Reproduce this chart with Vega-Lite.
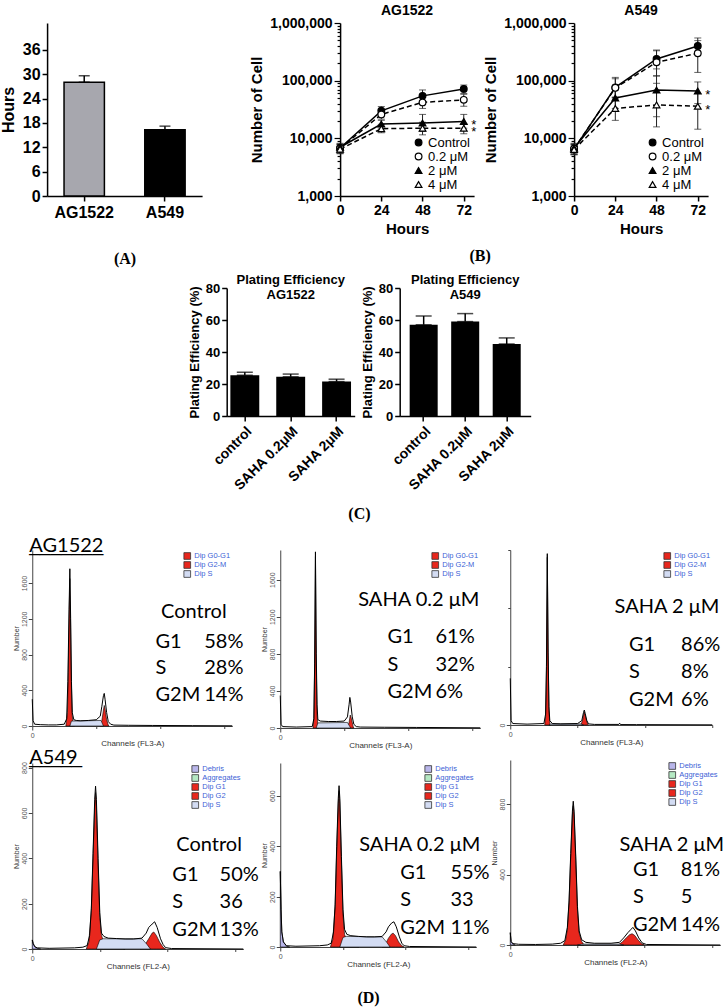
{
"$schema": "https://vega.github.io/schema/vega-lite/v6.json",
"padding": {"left": 0, "right": 5, "top": 4, "bottom": 2},
"background": "white",
"datasets": {
"hours": [{"cell":"AG1522","h":28,"hi":29.6},{"cell":"A549","h":16.3,"hi":17.2}],
"growth": [
{"cell":"AG1522","c":"Control","t":0,"v":6800,"lo":5600,"hi":8000},
{"cell":"AG1522","c":"Control","t":24,"v":30000,"lo":25800,"hi":35600},
{"cell":"AG1522","c":"Control","t":48,"v":54500,"lo":43500,"hi":69000},
{"cell":"AG1522","c":"Control","t":72,"v":72000,"lo":60000,"hi":84000},
{"cell":"AG1522","c":"0.2 μM","t":0,"v":6700,"lo":5500,"hi":7800},
{"cell":"AG1522","c":"0.2 μM","t":24,"v":26000,"lo":21500,"hi":31000},
{"cell":"AG1522","c":"0.2 μM","t":48,"v":42000,"lo":33000,"hi":52000},
{"cell":"AG1522","c":"0.2 μM","t":72,"v":46500,"lo":36000,"hi":58000},
{"cell":"AG1522","c":"2 μM","t":0,"v":7000,"lo":5800,"hi":8200},
{"cell":"AG1522","c":"2 μM","t":24,"v":17700,"lo":15000,"hi":20500},
{"cell":"AG1522","c":"2 μM","t":48,"v":18400,"lo":13200,"hi":26000},
{"cell":"AG1522","c":"2 μM","t":72,"v":19600,"lo":15000,"hi":26000,"sig":"*"},
{"cell":"AG1522","c":"4 μM","t":0,"v":6500,"lo":5400,"hi":7700},
{"cell":"AG1522","c":"4 μM","t":24,"v":14700,"lo":12500,"hi":17500},
{"cell":"AG1522","c":"4 μM","t":48,"v":15000,"lo":11500,"hi":19000},
{"cell":"AG1522","c":"4 μM","t":72,"v":15000,"lo":12000,"hi":18000,"sig":"*"},
{"cell":"A549","c":"Control","t":0,"v":6500,"lo":5200,"hi":8000},
{"cell":"A549","c":"Control","t":24,"v":76400,"lo":51000,"hi":114000},
{"cell":"A549","c":"Control","t":48,"v":238000,"lo":160000,"hi":340000},
{"cell":"A549","c":"Control","t":72,"v":400000,"lo":300000,"hi":550000},
{"cell":"A549","c":"0.2 μM","t":0,"v":6600,"lo":5300,"hi":7800},
{"cell":"A549","c":"0.2 μM","t":24,"v":75000,"lo":52000,"hi":108000},
{"cell":"A549","c":"0.2 μM","t":48,"v":208000,"lo":120000,"hi":330000},
{"cell":"A549","c":"0.2 μM","t":72,"v":299000,"lo":139000,"hi":495000},
{"cell":"A549","c":"2 μM","t":0,"v":6800,"lo":5500,"hi":8200},
{"cell":"A549","c":"2 μM","t":24,"v":50000,"lo":33000,"hi":75000},
{"cell":"A549","c":"2 μM","t":48,"v":68700,"lo":23700,"hi":122000},
{"cell":"A549","c":"2 μM","t":72,"v":66000,"lo":40000,"hi":95000,"sig":"*"},
{"cell":"A549","c":"4 μM","t":0,"v":6400,"lo":5200,"hi":7600},
{"cell":"A549","c":"4 μM","t":24,"v":33000,"lo":20500,"hi":50000},
{"cell":"A549","c":"4 μM","t":48,"v":38000,"lo":15800,"hi":90000},
{"cell":"A549","c":"4 μM","t":72,"v":36000,"lo":14400,"hi":60000,"sig":"*"}
],
"plating": [
{"cell":"AG1522","g":"control","v":25.5,"hi":27.3},
{"cell":"AG1522","g":"SAHA 0.2μM","v":24.5,"hi":26.2},
{"cell":"AG1522","g":"SAHA 2μM","v":21.5,"hi":23},
{"cell":"A549","g":"control","v":57,"hi":62.5},
{"cell":"A549","g":"SAHA 0.2μM","v":59,"hi":64},
{"cell":"A549","g":"SAHA 2μM","v":45,"hi":48.8}
],
"stats": [
{"p":"AGc","row":"head","lab":"Control","pct":""},{"p":"AGc","row":"G1","lab":"G1","pct":"58%"},{"p":"AGc","row":"S","lab":"S","pct":"28%"},{"p":"AGc","row":"G2M","lab":"G2M","pct":"14%"},
{"p":"AG02","row":"head","lab":"SAHA 0.2 μM","pct":""},{"p":"AG02","row":"G1","lab":"G1","pct":"61%"},{"p":"AG02","row":"S","lab":"S","pct":"32%"},{"p":"AG02","row":"G2M","lab":"G2M","pct":"6%"},
{"p":"AG2","row":"head","lab":"SAHA 2 μM","pct":""},{"p":"AG2","row":"G1","lab":"G1","pct":"86%"},{"p":"AG2","row":"S","lab":"S","pct":"8%"},{"p":"AG2","row":"G2M","lab":"G2M","pct":"6%"},
{"p":"Ac","row":"head","lab":"Control","pct":""},{"p":"Ac","row":"G1","lab":"G1","pct":"50%"},{"p":"Ac","row":"S","lab":"S","pct":"36"},{"p":"Ac","row":"G2M","lab":"G2M","pct":"13%"},
{"p":"A02","row":"head","lab":"SAHA 0.2 μM","pct":""},{"p":"A02","row":"G1","lab":"G1","pct":"55%"},{"p":"A02","row":"S","lab":"S","pct":"33"},{"p":"A02","row":"G2M","lab":"G2M","pct":"11%"},
{"p":"A2","row":"head","lab":"SAHA 2 μM","pct":""},{"p":"A2","row":"G1","lab":"G1","pct":"81%"},{"p":"A2","row":"S","lab":"S","pct":"5"},{"p":"A2","row":"G2M","lab":"G2M","pct":"14%"}
],
"flow": [
{"p":"AGc","k":"tot","x":0,"n":300},{"p":"AGc","k":"tot","x":1,"n":60},{"p":"AGc","k":"tot","x":3,"n":20},{"p":"AGc","k":"tot","x":10,"n":15},{"p":"AGc","k":"tot","x":20,"n":12},{"p":"AGc","k":"tot","x":30,"n":12},{"p":"AGc","k":"tot","x":40,"n":20},{"p":"AGc","k":"tot","x":43,"n":80},{"p":"AGc","k":"tot","x":44.5,"n":500},{"p":"AGc","k":"tot","x":46,"n":1300},{"p":"AGc","k":"tot","x":47,"n":1760},{"p":"AGc","k":"tot","x":48,"n":1200},{"p":"AGc","k":"tot","x":49,"n":500},{"p":"AGc","k":"tot","x":50,"n":150},{"p":"AGc","k":"tot","x":52,"n":70},{"p":"AGc","k":"tot","x":55,"n":62},{"p":"AGc","k":"tot","x":60,"n":58},{"p":"AGc","k":"tot","x":70,"n":62},{"p":"AGc","k":"tot","x":80,"n":70},{"p":"AGc","k":"tot","x":85,"n":110},{"p":"AGc","k":"tot","x":87,"n":220},{"p":"AGc","k":"tot","x":89,"n":340},{"p":"AGc","k":"tot","x":90,"n":365},{"p":"AGc","k":"tot","x":91,"n":300},{"p":"AGc","k":"tot","x":93,"n":150},{"p":"AGc","k":"tot","x":95,"n":50},{"p":"AGc","k":"tot","x":98,"n":20},{"p":"AGc","k":"tot","x":102,"n":10},{"p":"AGc","k":"tot","x":120,"n":8},{"p":"AGc","k":"tot","x":150,"n":6},{"p":"AGc","k":"tot","x":200,"n":4},{"p":"AGc","k":"tot","x":250,"n":2},
{"p":"AGc","k":"Dip G0-G1","x":42,"n":0},{"p":"AGc","k":"Dip G0-G1","x":44,"n":150},{"p":"AGc","k":"Dip G0-G1","x":45,"n":600},{"p":"AGc","k":"Dip G0-G1","x":46,"n":1200},{"p":"AGc","k":"Dip G0-G1","x":47,"n":1650},{"p":"AGc","k":"Dip G0-G1","x":48,"n":1100},{"p":"AGc","k":"Dip G0-G1","x":49,"n":450},{"p":"AGc","k":"Dip G0-G1","x":50,"n":120},{"p":"AGc","k":"Dip G0-G1","x":51,"n":30},{"p":"AGc","k":"Dip G0-G1","x":53,"n":0},
{"p":"AGc","k":"Dip G2-M","x":85,"n":0},{"p":"AGc","k":"Dip G2-M","x":87,"n":60},{"p":"AGc","k":"Dip G2-M","x":89,"n":180},{"p":"AGc","k":"Dip G2-M","x":90,"n":230},{"p":"AGc","k":"Dip G2-M","x":91,"n":190},{"p":"AGc","k":"Dip G2-M","x":93,"n":70},{"p":"AGc","k":"Dip G2-M","x":95,"n":10},{"p":"AGc","k":"Dip G2-M","x":96,"n":0},
{"p":"AGc","k":"Dip S","x":47,"n":0},{"p":"AGc","k":"Dip S","x":49,"n":55},{"p":"AGc","k":"Dip S","x":86,"n":62},{"p":"AGc","k":"Dip S","x":89,"n":0},
{"p":"AG02","k":"tot","x":0,"n":350},{"p":"AG02","k":"tot","x":1,"n":40},{"p":"AG02","k":"tot","x":3,"n":15},{"p":"AG02","k":"tot","x":20,"n":10},{"p":"AG02","k":"tot","x":40,"n":15},{"p":"AG02","k":"tot","x":42,"n":100},{"p":"AG02","k":"tot","x":43,"n":700},{"p":"AG02","k":"tot","x":44,"n":1900},{"p":"AG02","k":"tot","x":45,"n":800},{"p":"AG02","k":"tot","x":46,"n":250},{"p":"AG02","k":"tot","x":47,"n":90},{"p":"AG02","k":"tot","x":50,"n":75},{"p":"AG02","k":"tot","x":60,"n":70},{"p":"AG02","k":"tot","x":70,"n":70},{"p":"AG02","k":"tot","x":80,"n":75},{"p":"AG02","k":"tot","x":84,"n":120},{"p":"AG02","k":"tot","x":86,"n":250},{"p":"AG02","k":"tot","x":87,"n":330},{"p":"AG02","k":"tot","x":88,"n":280},{"p":"AG02","k":"tot","x":90,"n":120},{"p":"AG02","k":"tot","x":92,"n":40},{"p":"AG02","k":"tot","x":95,"n":15},{"p":"AG02","k":"tot","x":100,"n":10},{"p":"AG02","k":"tot","x":130,"n":8},{"p":"AG02","k":"tot","x":170,"n":6},{"p":"AG02","k":"tot","x":250,"n":2},
{"p":"AG02","k":"Dip G0-G1","x":41,"n":0},{"p":"AG02","k":"Dip G0-G1","x":42,"n":100},{"p":"AG02","k":"Dip G0-G1","x":43,"n":650},{"p":"AG02","k":"Dip G0-G1","x":44,"n":1850},{"p":"AG02","k":"Dip G0-G1","x":45,"n":700},{"p":"AG02","k":"Dip G0-G1","x":46,"n":150},{"p":"AG02","k":"Dip G0-G1","x":47,"n":20},{"p":"AG02","k":"Dip G0-G1","x":48,"n":0},
{"p":"AG02","k":"Dip G2-M","x":84,"n":0},{"p":"AG02","k":"Dip G2-M","x":86,"n":60},{"p":"AG02","k":"Dip G2-M","x":87.5,"n":140},{"p":"AG02","k":"Dip G2-M","x":89,"n":100},{"p":"AG02","k":"Dip G2-M","x":91,"n":20},{"p":"AG02","k":"Dip G2-M","x":92,"n":0},
{"p":"AG02","k":"Dip S","x":45,"n":0},{"p":"AG02","k":"Dip S","x":47,"n":55},{"p":"AG02","k":"Dip S","x":84,"n":60},{"p":"AG02","k":"Dip S","x":88,"n":0},
{"p":"AG2","k":"tot","x":0,"n":640},{"p":"AG2","k":"tot","x":1,"n":60},{"p":"AG2","k":"tot","x":3,"n":20},{"p":"AG2","k":"tot","x":20,"n":12},{"p":"AG2","k":"tot","x":40,"n":20},{"p":"AG2","k":"tot","x":42,"n":150},{"p":"AG2","k":"tot","x":43,"n":800},{"p":"AG2","k":"tot","x":44,"n":2350},{"p":"AG2","k":"tot","x":45,"n":1000},{"p":"AG2","k":"tot","x":46,"n":250},{"p":"AG2","k":"tot","x":47,"n":60},{"p":"AG2","k":"tot","x":50,"n":20},{"p":"AG2","k":"tot","x":60,"n":15},{"p":"AG2","k":"tot","x":80,"n":20},{"p":"AG2","k":"tot","x":85,"n":60},{"p":"AG2","k":"tot","x":87,"n":170},{"p":"AG2","k":"tot","x":88,"n":205},{"p":"AG2","k":"tot","x":89,"n":160},{"p":"AG2","k":"tot","x":91,"n":60},{"p":"AG2","k":"tot","x":93,"n":15},{"p":"AG2","k":"tot","x":100,"n":8},{"p":"AG2","k":"tot","x":129,"n":8},{"p":"AG2","k":"tot","x":130,"n":25},{"p":"AG2","k":"tot","x":131,"n":6},{"p":"AG2","k":"tot","x":150,"n":5},{"p":"AG2","k":"tot","x":240,"n":2},
{"p":"AG2","k":"Dip G0-G1","x":41,"n":0},{"p":"AG2","k":"Dip G0-G1","x":42,"n":120},{"p":"AG2","k":"Dip G0-G1","x":43,"n":750},{"p":"AG2","k":"Dip G0-G1","x":44,"n":2300},{"p":"AG2","k":"Dip G0-G1","x":45,"n":950},{"p":"AG2","k":"Dip G0-G1","x":46,"n":200},{"p":"AG2","k":"Dip G0-G1","x":47,"n":20},{"p":"AG2","k":"Dip G0-G1","x":48,"n":0},
{"p":"AG2","k":"Dip G2-M","x":84,"n":0},{"p":"AG2","k":"Dip G2-M","x":86,"n":70},{"p":"AG2","k":"Dip G2-M","x":88,"n":180},{"p":"AG2","k":"Dip G2-M","x":90,"n":90},{"p":"AG2","k":"Dip G2-M","x":92,"n":10},{"p":"AG2","k":"Dip G2-M","x":93,"n":0},
{"p":"AG2","k":"Dip S","x":46,"n":0},{"p":"AG2","k":"Dip S","x":48,"n":15},{"p":"AG2","k":"Dip S","x":84,"n":15},{"p":"AG2","k":"Dip S","x":87,"n":0},
{"p":"Ac","k":"tot","x":0,"n":40},{"p":"Ac","k":"tot","x":1,"n":25},{"p":"Ac","k":"tot","x":3,"n":10},{"p":"Ac","k":"tot","x":6,"n":5},{"p":"Ac","k":"tot","x":20,"n":3},{"p":"Ac","k":"tot","x":50,"n":5},{"p":"Ac","k":"tot","x":60,"n":8},{"p":"Ac","k":"tot","x":65,"n":15},{"p":"Ac","k":"tot","x":68,"n":60},{"p":"Ac","k":"tot","x":70,"n":180},{"p":"Ac","k":"tot","x":72,"n":420},{"p":"Ac","k":"tot","x":74,"n":660},{"p":"Ac","k":"tot","x":75,"n":718},{"p":"Ac","k":"tot","x":76,"n":660},{"p":"Ac","k":"tot","x":78,"n":400},{"p":"Ac","k":"tot","x":80,"n":160},{"p":"Ac","k":"tot","x":82,"n":70},{"p":"Ac","k":"tot","x":85,"n":55},{"p":"Ac","k":"tot","x":90,"n":48},{"p":"Ac","k":"tot","x":100,"n":46},{"p":"Ac","k":"tot","x":110,"n":44},{"p":"Ac","k":"tot","x":120,"n":44},{"p":"Ac","k":"tot","x":130,"n":48},{"p":"Ac","k":"tot","x":135,"n":70},{"p":"Ac","k":"tot","x":138,"n":95},{"p":"Ac","k":"tot","x":142,"n":110},{"p":"Ac","k":"tot","x":145,"n":120},{"p":"Ac","k":"tot","x":148,"n":95},{"p":"Ac","k":"tot","x":152,"n":45},{"p":"Ac","k":"tot","x":155,"n":20},{"p":"Ac","k":"tot","x":158,"n":6},{"p":"Ac","k":"tot","x":165,"n":2},{"p":"Ac","k":"tot","x":250,"n":0},
{"p":"Ac","k":"Debris","x":0,"n":40},{"p":"Ac","k":"Debris","x":1,"n":25},{"p":"Ac","k":"Debris","x":3,"n":10},{"p":"Ac","k":"Debris","x":6,"n":3},{"p":"Ac","k":"Debris","x":10,"n":0},
{"p":"Ac","k":"Dip G1","x":64,"n":0},{"p":"Ac","k":"Dip G1","x":67,"n":30},{"p":"Ac","k":"Dip G1","x":70,"n":170},{"p":"Ac","k":"Dip G1","x":72,"n":400},{"p":"Ac","k":"Dip G1","x":74,"n":630},{"p":"Ac","k":"Dip G1","x":75,"n":690},{"p":"Ac","k":"Dip G1","x":76,"n":630},{"p":"Ac","k":"Dip G1","x":78,"n":370},{"p":"Ac","k":"Dip G1","x":80,"n":140},{"p":"Ac","k":"Dip G1","x":82,"n":60},{"p":"Ac","k":"Dip G1","x":85,"n":30},{"p":"Ac","k":"Dip G1","x":90,"n":15},{"p":"Ac","k":"Dip G1","x":100,"n":8},{"p":"Ac","k":"Dip G1","x":110,"n":0},
{"p":"Ac","k":"Dip G2","x":128,"n":0},{"p":"Ac","k":"Dip G2","x":133,"n":15},{"p":"Ac","k":"Dip G2","x":138,"n":45},{"p":"Ac","k":"Dip G2","x":142,"n":70},{"p":"Ac","k":"Dip G2","x":144,"n":75},{"p":"Ac","k":"Dip G2","x":147,"n":60},{"p":"Ac","k":"Dip G2","x":151,"n":30},{"p":"Ac","k":"Dip G2","x":155,"n":8},{"p":"Ac","k":"Dip G2","x":158,"n":0},
{"p":"Ac","k":"Dip S","x":76,"n":0},{"p":"Ac","k":"Dip S","x":80,"n":40},{"p":"Ac","k":"Dip S","x":84,"n":45},{"p":"Ac","k":"Dip S","x":130,"n":45},{"p":"Ac","k":"Dip S","x":136,"n":20},{"p":"Ac","k":"Dip S","x":140,"n":0},
{"p":"A02","k":"tot","x":0,"n":300},{"p":"A02","k":"tot","x":1,"n":150},{"p":"A02","k":"tot","x":2,"n":60},{"p":"A02","k":"tot","x":4,"n":20},{"p":"A02","k":"tot","x":8,"n":5},{"p":"A02","k":"tot","x":20,"n":3},{"p":"A02","k":"tot","x":50,"n":5},{"p":"A02","k":"tot","x":60,"n":8},{"p":"A02","k":"tot","x":65,"n":15},{"p":"A02","k":"tot","x":68,"n":60},{"p":"A02","k":"tot","x":70,"n":170},{"p":"A02","k":"tot","x":72,"n":400},{"p":"A02","k":"tot","x":74,"n":590},{"p":"A02","k":"tot","x":75,"n":640},{"p":"A02","k":"tot","x":76,"n":590},{"p":"A02","k":"tot","x":78,"n":360},{"p":"A02","k":"tot","x":80,"n":150},{"p":"A02","k":"tot","x":82,"n":70},{"p":"A02","k":"tot","x":85,"n":50},{"p":"A02","k":"tot","x":90,"n":45},{"p":"A02","k":"tot","x":100,"n":42},{"p":"A02","k":"tot","x":110,"n":40},{"p":"A02","k":"tot","x":120,"n":40},{"p":"A02","k":"tot","x":130,"n":42},{"p":"A02","k":"tot","x":135,"n":60},{"p":"A02","k":"tot","x":138,"n":80},{"p":"A02","k":"tot","x":142,"n":95},{"p":"A02","k":"tot","x":145,"n":100},{"p":"A02","k":"tot","x":148,"n":80},{"p":"A02","k":"tot","x":152,"n":40},{"p":"A02","k":"tot","x":155,"n":15},{"p":"A02","k":"tot","x":158,"n":5},{"p":"A02","k":"tot","x":165,"n":2},{"p":"A02","k":"tot","x":250,"n":0},
{"p":"A02","k":"Debris","x":0,"n":300},{"p":"A02","k":"Debris","x":1,"n":150},{"p":"A02","k":"Debris","x":2,"n":60},{"p":"A02","k":"Debris","x":4,"n":20},{"p":"A02","k":"Debris","x":8,"n":3},{"p":"A02","k":"Debris","x":12,"n":0},
{"p":"A02","k":"Dip G1","x":64,"n":0},{"p":"A02","k":"Dip G1","x":67,"n":30},{"p":"A02","k":"Dip G1","x":70,"n":160},{"p":"A02","k":"Dip G1","x":72,"n":380},{"p":"A02","k":"Dip G1","x":74,"n":570},{"p":"A02","k":"Dip G1","x":75,"n":620},{"p":"A02","k":"Dip G1","x":76,"n":570},{"p":"A02","k":"Dip G1","x":78,"n":340},{"p":"A02","k":"Dip G1","x":80,"n":130},{"p":"A02","k":"Dip G1","x":82,"n":50},{"p":"A02","k":"Dip G1","x":85,"n":25},{"p":"A02","k":"Dip G1","x":90,"n":12},{"p":"A02","k":"Dip G1","x":100,"n":0},
{"p":"A02","k":"Dip G2","x":130,"n":0},{"p":"A02","k":"Dip G2","x":134,"n":10},{"p":"A02","k":"Dip G2","x":138,"n":35},{"p":"A02","k":"Dip G2","x":142,"n":52},{"p":"A02","k":"Dip G2","x":144,"n":55},{"p":"A02","k":"Dip G2","x":147,"n":45},{"p":"A02","k":"Dip G2","x":151,"n":20},{"p":"A02","k":"Dip G2","x":155,"n":5},{"p":"A02","k":"Dip G2","x":158,"n":0},
{"p":"A02","k":"Dip S","x":76,"n":0},{"p":"A02","k":"Dip S","x":80,"n":38},{"p":"A02","k":"Dip S","x":84,"n":42},{"p":"A02","k":"Dip S","x":130,"n":40},{"p":"A02","k":"Dip S","x":136,"n":18},{"p":"A02","k":"Dip S","x":140,"n":0},
{"p":"A2","k":"tot","x":0,"n":70},{"p":"A2","k":"tot","x":1,"n":20},{"p":"A2","k":"tot","x":3,"n":8},{"p":"A2","k":"tot","x":10,"n":4},{"p":"A2","k":"tot","x":30,"n":3},{"p":"A2","k":"tot","x":50,"n":5},{"p":"A2","k":"tot","x":60,"n":10},{"p":"A2","k":"tot","x":65,"n":25},{"p":"A2","k":"tot","x":68,"n":100},{"p":"A2","k":"tot","x":70,"n":250},{"p":"A2","k":"tot","x":72,"n":520},{"p":"A2","k":"tot","x":74,"n":760},{"p":"A2","k":"tot","x":75,"n":816},{"p":"A2","k":"tot","x":76,"n":760},{"p":"A2","k":"tot","x":78,"n":500},{"p":"A2","k":"tot","x":80,"n":220},{"p":"A2","k":"tot","x":82,"n":80},{"p":"A2","k":"tot","x":85,"n":30},{"p":"A2","k":"tot","x":90,"n":15},{"p":"A2","k":"tot","x":100,"n":10},{"p":"A2","k":"tot","x":120,"n":10},{"p":"A2","k":"tot","x":130,"n":15},{"p":"A2","k":"tot","x":135,"n":40},{"p":"A2","k":"tot","x":140,"n":70},{"p":"A2","k":"tot","x":144,"n":90},{"p":"A2","k":"tot","x":146,"n":100},{"p":"A2","k":"tot","x":149,"n":80},{"p":"A2","k":"tot","x":153,"n":40},{"p":"A2","k":"tot","x":157,"n":12},{"p":"A2","k":"tot","x":162,"n":3},{"p":"A2","k":"tot","x":250,"n":0},
{"p":"A2","k":"Debris","x":0,"n":70},{"p":"A2","k":"Debris","x":1,"n":20},{"p":"A2","k":"Debris","x":3,"n":6},{"p":"A2","k":"Debris","x":6,"n":0},
{"p":"A2","k":"Dip G1","x":63,"n":0},{"p":"A2","k":"Dip G1","x":66,"n":30},{"p":"A2","k":"Dip G1","x":68,"n":90},{"p":"A2","k":"Dip G1","x":70,"n":240},{"p":"A2","k":"Dip G1","x":72,"n":500},{"p":"A2","k":"Dip G1","x":74,"n":740},{"p":"A2","k":"Dip G1","x":75,"n":790},{"p":"A2","k":"Dip G1","x":76,"n":740},{"p":"A2","k":"Dip G1","x":78,"n":480},{"p":"A2","k":"Dip G1","x":80,"n":200},{"p":"A2","k":"Dip G1","x":82,"n":70},{"p":"A2","k":"Dip G1","x":85,"n":20},{"p":"A2","k":"Dip G1","x":88,"n":0},
{"p":"A2","k":"Dip G2","x":128,"n":0},{"p":"A2","k":"Dip G2","x":133,"n":15},{"p":"A2","k":"Dip G2","x":138,"n":40},{"p":"A2","k":"Dip G2","x":142,"n":58},{"p":"A2","k":"Dip G2","x":145,"n":64},{"p":"A2","k":"Dip G2","x":148,"n":55},{"p":"A2","k":"Dip G2","x":152,"n":30},{"p":"A2","k":"Dip G2","x":156,"n":8},{"p":"A2","k":"Dip G2","x":160,"n":0},
{"p":"A2","k":"Dip S","x":80,"n":0},{"p":"A2","k":"Dip S","x":85,"n":5},{"p":"A2","k":"Dip S","x":130,"n":5},{"p":"A2","k":"Dip S","x":135,"n":0}
]
},
"center": true,
"spacing": 13,
"resolve": {"scale": {"color": "independent", "shape": "independent", "fill": "independent", "stroke": "independent"}, "legend": {"color": "independent", "shape": "independent", "fill": "independent", "stroke": "independent"}},
"vconcat": [
{
"center": true,
"spacing": 8,
"resolve": {"scale": {"color": "independent", "shape": "independent", "fill": "independent", "stroke": "independent"}, "legend": {"color": "independent", "shape": "independent", "fill": "independent", "stroke": "independent"}},
"vconcat": [
{
"spacing": 47,
"resolve": {"scale": {"color": "independent", "shape": "independent", "fill": "independent", "stroke": "independent"}, "legend": {"color": "independent", "shape": "independent", "fill": "independent", "stroke": "independent"}},
"hconcat": [
{
"width": 155, "height": 173,
"data": {"name": "hours"},
"layer": [
{"mark": {"type": "bar", "stroke": "black", "strokeWidth": 1.5},
 "encoding": {
  "x": {"field": "cell", "type": "nominal", "sort": ["AG1522", "A549"], "scale": {"paddingInner": 0.5, "paddingOuter": 0.21},
        "axis": {"title": "(A)", "labelAngle": 0, "labelFontSize": 16, "labelPadding": 3, "tickSize": 5, "tickWidth": 1.5, "domainWidth": 1.5, "titleFont": "Liberation Serif", "titleFontSize": 16, "titlePadding": 30}},
  "y": {"field": "h", "type": "quantitative", "scale": {"domain": [0, 42.6], "nice": false},
        "axis": {"title": "Hours", "values": [0, 6, 12, 18, 24, 30, 36], "labelFontSize": 16, "titleFontSize": 16, "tickSize": 5, "tickWidth": 1.5, "domainWidth": 1.5, "titlePadding": 6, "labelPadding": 2, "labelOverlap": false}},
  "fill": {"field": "cell", "type": "nominal", "scale": {"domain": ["AG1522", "A549"], "range": ["#a7a7ae", "#000000"]}, "legend": null}
 }},
{"mark": {"type": "errorbar", "color": "black", "ticks": {"size": 11}, "thickness": 1.5},
 "encoding": {"x": {"field": "cell", "type": "nominal", "sort": ["AG1522", "A549"], "title": "(A)"},
  "y": {"field": "h", "type": "quantitative", "title": "Hours", "axis": {"title": "Hours", "values": [0, 6, 12, 18, 24, 30, 36], "labelFontSize": 16, "titleFontSize": 16, "tickSize": 5, "tickWidth": 1.5, "domainWidth": 1.5, "titlePadding": 6, "labelPadding": 2, "labelOverlap": false}},
  "y2": {"field": "hi"}}}
]
},
{
"spacing": 6,
"title": {"text": "(B)", "orient": "bottom", "anchor": "middle", "font": "Liberation Serif", "fontSize": 16, "offset": 12},
"resolve": {"scale": {"color": "independent", "shape": "independent", "fill": "independent", "stroke": "independent"}, "legend": {"color": "independent", "shape": "independent", "fill": "independent", "stroke": "independent"}},
"hconcat": [
{
"width": 134, "height": 173,
"title": {"text": "AG1522", "fontSize": 14, "offset": -2},
"data": {"name": "growth"},
"transform": [{"filter": "datum.cell == 'AG1522'"}],
"layer": [
{"mark": {"type": "errorbar", "color": "#222", "ticks": {"size": 7}, "thickness": 1},
 "encoding": {"x": {"field": "t", "type": "quantitative", "title": "Hours"}, "y": {"field": "lo", "type": "quantitative", "title": "Number of Cell", "scale": {"type": "log", "domain": [1000, 1000000]}}, "y2": {"field": "hi"}}},
{"transform": [{"filter": "datum.c == 'Control' || datum.c == '2 μM'"}],
 "mark": {"type": "line", "color": "black", "strokeWidth": 1.5},
 "encoding": {
  "x": {"field": "t", "type": "quantitative", "scale": {"domain": [0, 78], "nice": false}, "axis": {"title": "Hours", "values": [0, 24, 48, 72], "labelFontSize": 14, "titleFontSize": 15, "tickSize": 5, "domainWidth": 1.5, "tickWidth": 1.5, "labelFlush": false, "titlePadding": 4}},
  "y": {"field": "v", "type": "quantitative", "scale": {"type": "log", "domain": [1000, 1000000]}, "axis": {"title": "Number of Cell", "titleFontSize": 15, "labelFontSize": 14, "values": [1000,2000,3000,4000,5000,6000,7000,8000,9000,10000,20000,30000,40000,50000,60000,70000,80000,90000,100000,200000,300000,400000,500000,600000,700000,800000,900000,1000000], "labelExpr": "(datum.value==1000||datum.value==10000||datum.value==100000||datum.value==1000000) ? format(datum.value, ',') : ''", "tickSize": {"condition": {"test": "datum.value==1000||datum.value==10000||datum.value==100000||datum.value==1000000", "value": 6}, "value": 3}, "domainWidth": 1.5, "tickWidth": 1.2, "titlePadding": 5, "labelPadding": 2, "labelOverlap": false}},
  "detail": {"field": "c"}
 }},
{"transform": [{"filter": "datum.c == '0.2 μM' || datum.c == '4 μM'"}],
 "mark": {"type": "line", "color": "black", "strokeWidth": 1.5, "strokeDash": [5, 3]},
 "encoding": {"x": {"field": "t", "type": "quantitative"}, "y": {"field": "v", "type": "quantitative"}, "detail": {"field": "c"}}},
{"mark": {"type": "point", "strokeWidth": 1.2, "size": 45, "opacity": 1},
 "encoding": {
  "x": {"field": "t", "type": "quantitative"},
  "y": {"field": "v", "type": "quantitative"},
  "shape": {"field": "c", "type": "nominal", "scale": {"domain": ["Control", "0.2 μM", "2 μM", "4 μM"], "range": ["circle", "circle", "triangle-up", "triangle-up"]}, "legend": {"title": null, "orient": "bottom-right", "offset": 4, "labelFontSize": 13, "labelFontWeight": "normal", "symbolSize": 45, "symbolStrokeWidth": 1.2, "rowPadding": 0, "labelOffset": 3, "padding": 0}},
  "fill": {"field": "c", "type": "nominal", "scale": {"domain": ["Control", "0.2 μM", "2 μM", "4 μM"], "range": ["black", "white", "black", "white"]}, "legend": {"title": null, "orient": "bottom-right", "offset": 4, "labelFontSize": 13, "labelFontWeight": "normal", "symbolSize": 45, "symbolStrokeWidth": 1.2, "rowPadding": 0, "labelOffset": 3, "padding": 0}},
  "stroke": {"field": "c", "type": "nominal", "scale": {"domain": ["Control", "0.2 μM", "2 μM", "4 μM"], "range": ["black", "black", "black", "black"]}, "legend": {"title": null, "orient": "bottom-right", "offset": 4, "labelFontSize": 13, "labelFontWeight": "normal", "symbolSize": 45, "symbolStrokeWidth": 1.2, "rowPadding": 0, "labelOffset": 3, "padding": 0}}
 }},
{"transform": [{"filter": "datum.sig == '*'"}],
 "mark": {"type": "text", "dx": 10, "dy": 4, "fontSize": 13, "font": "Liberation Sans"},
 "encoding": {"x": {"field": "t", "type": "quantitative"}, "y": {"field": "v", "type": "quantitative"}, "text": {"field": "sig"}}}
]
},
{
"width": 134, "height": 173,
"title": {"text": "A549", "fontSize": 14, "offset": -2},
"data": {"name": "growth"},
"transform": [{"filter": "datum.cell == 'A549'"}],
"layer": [
{"mark": {"type": "errorbar", "color": "#222", "ticks": {"size": 7}, "thickness": 1},
 "encoding": {"x": {"field": "t", "type": "quantitative", "title": "Hours"}, "y": {"field": "lo", "type": "quantitative", "title": "Number of Cell", "scale": {"type": "log", "domain": [1000, 1000000]}}, "y2": {"field": "hi"}}},
{"transform": [{"filter": "datum.c == 'Control' || datum.c == '2 μM'"}],
 "mark": {"type": "line", "color": "black", "strokeWidth": 1.5},
 "encoding": {
  "x": {"field": "t", "type": "quantitative", "scale": {"domain": [0, 78], "nice": false}, "axis": {"title": "Hours", "values": [0, 24, 48, 72], "labelFontSize": 14, "titleFontSize": 15, "tickSize": 5, "domainWidth": 1.5, "tickWidth": 1.5, "labelFlush": false, "titlePadding": 4}},
  "y": {"field": "v", "type": "quantitative", "scale": {"type": "log", "domain": [1000, 1000000]}, "axis": {"title": "Number of Cell", "titleFontSize": 15, "labelFontSize": 14, "values": [1000,2000,3000,4000,5000,6000,7000,8000,9000,10000,20000,30000,40000,50000,60000,70000,80000,90000,100000,200000,300000,400000,500000,600000,700000,800000,900000,1000000], "labelExpr": "(datum.value==1000||datum.value==10000||datum.value==100000||datum.value==1000000) ? format(datum.value, ',') : ''", "tickSize": {"condition": {"test": "datum.value==1000||datum.value==10000||datum.value==100000||datum.value==1000000", "value": 6}, "value": 3}, "domainWidth": 1.5, "tickWidth": 1.2, "titlePadding": 5, "labelPadding": 2, "labelOverlap": false}},
  "detail": {"field": "c"}
 }},
{"transform": [{"filter": "datum.c == '0.2 μM' || datum.c == '4 μM'"}],
 "mark": {"type": "line", "color": "black", "strokeWidth": 1.5, "strokeDash": [5, 3]},
 "encoding": {"x": {"field": "t", "type": "quantitative"}, "y": {"field": "v", "type": "quantitative"}, "detail": {"field": "c"}}},
{"mark": {"type": "point", "strokeWidth": 1.2, "size": 45, "opacity": 1},
 "encoding": {
  "x": {"field": "t", "type": "quantitative"},
  "y": {"field": "v", "type": "quantitative"},
  "shape": {"field": "c", "type": "nominal", "scale": {"domain": ["Control", "0.2 μM", "2 μM", "4 μM"], "range": ["circle", "circle", "triangle-up", "triangle-up"]}, "legend": {"title": null, "orient": "bottom-right", "offset": 4, "labelFontSize": 13, "labelFontWeight": "normal", "symbolSize": 45, "symbolStrokeWidth": 1.2, "rowPadding": 0, "labelOffset": 3, "padding": 0}},
  "fill": {"field": "c", "type": "nominal", "scale": {"domain": ["Control", "0.2 μM", "2 μM", "4 μM"], "range": ["black", "white", "black", "white"]}, "legend": {"title": null, "orient": "bottom-right", "offset": 4, "labelFontSize": 13, "labelFontWeight": "normal", "symbolSize": 45, "symbolStrokeWidth": 1.2, "rowPadding": 0, "labelOffset": 3, "padding": 0}},
  "stroke": {"field": "c", "type": "nominal", "scale": {"domain": ["Control", "0.2 μM", "2 μM", "4 μM"], "range": ["black", "black", "black", "black"]}, "legend": {"title": null, "orient": "bottom-right", "offset": 4, "labelFontSize": 13, "labelFontWeight": "normal", "symbolSize": 45, "symbolStrokeWidth": 1.2, "rowPadding": 0, "labelOffset": 3, "padding": 0}}
 }},
{"transform": [{"filter": "datum.sig == '*'"}],
 "mark": {"type": "text", "dx": 10, "dy": 4, "fontSize": 13, "font": "Liberation Sans"},
 "encoding": {"x": {"field": "t", "type": "quantitative"}, "y": {"field": "v", "type": "quantitative"}, "text": {"field": "sig"}}}
]
}
]
}
]
},
{
"spacing": 6,
"title": {"text": "(C)", "orient": "bottom", "anchor": "middle", "font": "Liberation Serif", "fontSize": 16, "offset": 13},
"hconcat": [
{
"width": 128, "height": 128,
"title": {"text": ["Plating Efficiency", "AG1522"], "fontSize": 13, "offset": -20, "lineHeight": 15},
"data": {"name": "plating"},
"transform": [{"filter": "datum.cell == 'AG1522'"}],
"layer": [
{"mark": {"type": "bar", "color": "black"},
 "encoding": {
  "x": {"field": "g", "type": "nominal", "sort": ["control", "SAHA 0.2μM", "SAHA 2μM"], "scale": {"paddingInner": 0.37, "paddingOuter": 0.08}, "axis": {"title": null, "labelAngle": -45, "labelFontSize": 14, "tickSize": 5, "domainWidth": 1.5, "tickWidth": 1.5, "labelPadding": 3}},
  "y": {"field": "v", "type": "quantitative", "scale": {"domain": [0, 80], "nice": false}, "axis": {"title": "Plating Efficiency (%)", "values": [0, 20, 40, 60, 80], "labelFontSize": 13, "titleFontSize": 13, "tickSize": 5, "domainWidth": 1.5, "tickWidth": 1.5, "titlePadding": 4, "labelPadding": 2, "labelOverlap": false}}
 }},
{"mark": {"type": "errorbar", "color": "black", "ticks": {"size": 16}, "thickness": 1.5},
 "encoding": {"x": {"field": "g", "type": "nominal", "sort": ["control", "SAHA 0.2μM", "SAHA 2μM"], "title": null},
  "y": {"field": "v", "type": "quantitative", "title": "Plating Efficiency (%)", "axis": {"title": "Plating Efficiency (%)", "values": [0, 20, 40, 60, 80], "labelFontSize": 13, "titleFontSize": 13, "tickSize": 5, "domainWidth": 1.5, "tickWidth": 1.5, "titlePadding": 4, "labelPadding": 2, "labelOverlap": false}},
  "y2": {"field": "hi"}}}
]
},
{
"width": 131, "height": 128,
"title": {"text": ["Plating Efficiency", "A549"], "fontSize": 13, "offset": -20, "lineHeight": 15},
"data": {"name": "plating"},
"transform": [{"filter": "datum.cell == 'A549'"}],
"layer": [
{"mark": {"type": "bar", "color": "black"},
 "encoding": {
  "x": {"field": "g", "type": "nominal", "sort": ["control", "SAHA 0.2μM", "SAHA 2μM"], "scale": {"paddingInner": 0.325, "paddingOuter": 0.24}, "axis": {"title": null, "labelAngle": -45, "labelFontSize": 14, "tickSize": 5, "domainWidth": 1.5, "tickWidth": 1.5, "labelPadding": 3}},
  "y": {"field": "v", "type": "quantitative", "scale": {"domain": [0, 80], "nice": false}, "axis": {"title": "Plating Efficiency (%)", "values": [0, 20, 40, 60, 80], "labelFontSize": 13, "titleFontSize": 13, "tickSize": 5, "domainWidth": 1.5, "tickWidth": 1.5, "titlePadding": 4, "labelPadding": 2, "labelOverlap": false}}
 }},
{"mark": {"type": "errorbar", "color": "black", "ticks": {"size": 16}, "thickness": 1.5},
 "encoding": {"x": {"field": "g", "type": "nominal", "sort": ["control", "SAHA 0.2μM", "SAHA 2μM"], "title": null},
  "y": {"field": "v", "type": "quantitative", "title": "Plating Efficiency (%)", "axis": {"title": "Plating Efficiency (%)", "values": [0, 20, 40, 60, 80], "labelFontSize": 13, "titleFontSize": 13, "tickSize": 5, "domainWidth": 1.5, "tickWidth": 1.5, "titlePadding": 4, "labelPadding": 2, "labelOverlap": false}},
  "y2": {"field": "hi"}}}
]
}
]
}
]
},
{
"spacing": 0,
"title": {"text": "(D)", "orient": "bottom", "anchor": "middle", "font": "Liberation Serif", "fontSize": 16, "offset": 20},
"resolve": {"scale": {"color": "independent"}, "legend": {"color": "independent"}},
"hconcat": [
{
"spacing": 0,
"resolve": {"scale": {"color": "independent"}, "legend": {"color": "independent"}},
"vconcat": [
{
"width": 200, "height": 176,
"title": {"text": "AG1522", "subtitle": "_______", "anchor": "start", "frame": "group", "font": "Lato", "fontSize": 20, "fontWeight": "normal", "color": "black", "subtitleFont": "Liberation Sans", "subtitleFontSize": 19, "subtitleColor": "black", "subtitlePadding": -20, "dx": -3, "offset": -6},
"layer": [
{"data": {"name": "flow"}, "transform": [{"filter": "datum.p == 'AGc'"}],
 "layer": [
  {"transform": [{"filter": "datum.k != 'tot'"}], "mark": {"type": "area", "stroke": "black", "strokeWidth": 0.6, "opacity": 1},
   "encoding": {
    "x": {"field": "x", "type": "quantitative", "scale": {"domain": [0, 250], "nice": false}, "axis": {"title": "Channels  (FL3-A)", "values": [0,10,20,30,40,50,60,70,80,90,100,110,120,130,140,150,160,170,180,190,200,210,220,230,240,250], "labelExpr": "datum.value % 50 == 0 ? datum.label : ''", "tickSize": {"condition": {"test": "datum.value % 50 == 0", "value": 4}, "value": 2.5}, "labelFontSize": 7, "labelFontWeight": "normal", "labelColor": "#555", "titleFontSize": 8, "titleFontWeight": "normal", "titleColor": "#333", "titlePadding": 1, "labelPadding": 1, "domainColor": "#444", "tickColor": "#444", "labelFlush": false, "labelOverlap": false}},
    "y": {"field": "n", "type": "quantitative", "stack": null, "scale": {"domain": [0, 1970], "nice": false}, "axis": {"title": "Number", "values": [0,100,200,300,400,500,600,700,800,900,1000,1100,1200,1300,1400,1500,1600,1700,1800,1900], "labelExpr": "datum.value % 400 == 0 ? datum.label : ''", "tickSize": {"condition": {"test": "datum.value % 400 == 0", "value": 4}, "value": 2.5}, "labelAngle": -90, "labelFontSize": 7, "labelFontWeight": "normal", "labelColor": "#555", "titleFontSize": 7, "titleFontWeight": "normal", "titleColor": "#333", "titlePadding": 1, "labelPadding": 1, "domainColor": "#444", "tickColor": "#444", "labelOverlap": false, "format": "d"}},
    "color": {"field": "k", "type": "nominal", "scale": {"domain": ["Dip G0-G1", "Dip G2-M", "Dip S"], "range": ["#e8271d", "#e8271d", "#d3dcf3"]}, "legend": {"title": null, "orient": "top-right", "offset": 2, "labelFontSize": 7.5, "labelColor": "#3d5fd6", "symbolType": "square", "symbolSize": 45, "symbolStrokeColor": "#333", "symbolStrokeWidth": 0.8, "rowPadding": -1, "labelOffset": 3, "padding": 0}}
   }},
  {"transform": [{"filter": "datum.k == 'tot'"}], "mark": {"type": "line", "color": "black", "strokeWidth": 1},
   "encoding": {"x": {"field": "x", "type": "quantitative"}, "y": {"field": "n", "type": "quantitative"}}}
 ]},
{"data": {"name": "stats"}, "transform": [{"filter": "datum.p == 'AGc' && datum.row == 'head'"}], "mark": {"type": "text", "align": "left", "baseline": "middle", "font": "Lato", "fontSize": 20, "color": "black"},
 "encoding": {"x": {"datum": 161, "type": "quantitative"}, "y": {"field": "row", "type": "nominal", "scale": {"type": "point", "domain": ["head"], "align": 0.352, "padding": 0.5}, "axis": null}, "text": {"field": "lab"}}},
{"data": {"name": "stats"}, "transform": [{"filter": "datum.p == 'AGc' && datum.row != 'head'"}], "mark": {"type": "text", "align": "left", "baseline": "middle", "font": "Lato", "fontSize": 20, "color": "black"},
 "encoding": {"x": {"datum": 154, "type": "quantitative"}, "y": {"field": "row", "type": "nominal", "scale": {"type": "point", "domain": ["d0", "d1", "d2", "G1", "S", "G2M"], "align": 0.287, "padding": 0.82}, "axis": null}, "text": {"field": "lab"}}},
{"data": {"name": "stats"}, "transform": [{"filter": "datum.p == 'AGc' && datum.row != 'head'"}], "mark": {"type": "text", "align": "left", "baseline": "middle", "font": "Lato", "fontSize": 20, "color": "black"},
 "encoding": {"x": {"datum": 215, "type": "quantitative"}, "y": {"field": "row", "type": "nominal", "scale": {"type": "point", "domain": ["d0", "d1", "d2", "G1", "S", "G2M"], "align": 0.287, "padding": 0.82}, "axis": null}, "text": {"field": "pct"}}}
],
"resolve": {"scale": {"y": "independent"}}
},
{
"width": 211, "height": 186,
"title": {"text": "A549", "subtitle": "_____", "anchor": "start", "frame": "group", "font": "Lato", "fontSize": 20, "fontWeight": "normal", "color": "black", "subtitleFont": "Liberation Sans", "subtitleFontSize": 19, "subtitleColor": "black", "subtitlePadding": -20, "dx": -3, "offset": -6},
"layer": [
{"data": {"name": "flow"}, "transform": [{"filter": "datum.p == 'Ac'"}],
 "layer": [
  {"transform": [{"filter": "datum.k != 'tot'"}], "mark": {"type": "area", "stroke": "black", "strokeWidth": 0.6, "opacity": 1},
   "encoding": {
    "x": {"field": "x", "type": "quantitative", "scale": {"domain": [0, 250], "nice": false}, "axis": {"title": "Channels  (FL2-A)", "values": [0,10,20,30,40,50,60,70,80,90,100,110,120,130,140,150,160,170,180,190,200,210,220,230,240,250], "labelExpr": "datum.value % 50 == 0 ? datum.label : ''", "tickSize": {"condition": {"test": "datum.value % 50 == 0", "value": 4}, "value": 2.5}, "labelFontSize": 7, "labelFontWeight": "normal", "labelColor": "#555", "titleFontSize": 8, "titleFontWeight": "normal", "titleColor": "#333", "titlePadding": 1, "labelPadding": 1, "domainColor": "#444", "tickColor": "#444", "labelFlush": false, "labelOverlap": false}},
    "y": {"field": "n", "type": "quantitative", "stack": null, "scale": {"domain": [0, 820], "nice": false}, "axis": {"title": "Number", "values": [0,50,100,150,200,250,300,350,400,450,500,550,600,650,700,750,800], "labelExpr": "datum.value % 200 == 0 ? datum.label : ''", "tickSize": {"condition": {"test": "datum.value % 200 == 0", "value": 4}, "value": 2.5}, "labelAngle": -90, "labelFontSize": 7, "labelFontWeight": "normal", "labelColor": "#555", "titleFontSize": 7, "titleFontWeight": "normal", "titleColor": "#333", "titlePadding": 1, "labelPadding": 1, "domainColor": "#444", "tickColor": "#444", "labelOverlap": false, "format": "d"}},
    "color": {"field": "k", "type": "nominal", "scale": {"domain": ["Debris", "Aggregates", "Dip G1", "Dip G2", "Dip S"], "range": ["#b9b6ea", "#b5e8c3", "#e8271d", "#e8271d", "#d3dcf3"]}, "legend": {"title": null, "orient": "top-right", "offset": 2, "labelFontSize": 7.5, "labelColor": "#3d5fd6", "symbolType": "square", "symbolSize": 45, "symbolStrokeColor": "#333", "symbolStrokeWidth": 0.8, "rowPadding": -1, "labelOffset": 3, "padding": 0}}
   }},
  {"transform": [{"filter": "datum.k == 'tot'"}], "mark": {"type": "line", "color": "black", "strokeWidth": 1},
   "encoding": {"x": {"field": "x", "type": "quantitative"}, "y": {"field": "n", "type": "quantitative"}}}
 ]},
{"data": {"name": "stats"}, "transform": [{"filter": "datum.p == 'Ac' && datum.row == 'head'"}], "mark": {"type": "text", "align": "left", "baseline": "middle", "font": "Lato", "fontSize": 20, "color": "black"},
 "encoding": {"x": {"datum": 170.6, "type": "quantitative"}, "y": {"field": "row", "type": "nominal", "scale": {"type": "point", "domain": ["head"], "align": 0.441, "padding": 0.5}, "axis": null}, "text": {"field": "lab"}}},
{"data": {"name": "stats"}, "transform": [{"filter": "datum.p == 'Ac' && datum.row != 'head'"}], "mark": {"type": "text", "align": "left", "baseline": "middle", "font": "Lato", "fontSize": 20, "color": "black"},
 "encoding": {"x": {"datum": 166, "type": "quantitative"}, "y": {"field": "row", "type": "nominal", "scale": {"type": "point", "domain": ["d0", "d1", "d2", "G1", "S", "G2M"], "align": 0.608, "padding": 0.882}, "axis": null}, "text": {"field": "lab"}}},
{"data": {"name": "stats"}, "transform": [{"filter": "datum.p == 'Ac' && datum.row != 'head'"}], "mark": {"type": "text", "align": "left", "baseline": "middle", "font": "Lato", "fontSize": 20, "color": "black"},
 "encoding": {"x": {"datum": 222, "type": "quantitative"}, "y": {"field": "row", "type": "nominal", "scale": {"type": "point", "domain": ["d0", "d1", "d2", "G1", "S", "G2M"], "align": 0.608, "padding": 0.882}, "axis": null}, "text": {"field": "pct"}}}
],
"resolve": {"scale": {"y": "independent"}}
}
]
},
{
"spacing": 0,
"resolve": {"scale": {"color": "independent"}, "legend": {"color": "independent"}},
"vconcat": [
{
"width": 200, "height": 178,
"title": {"text": " ", "subtitle": " ", "anchor": "start", "frame": "group", "font": "Lato", "fontSize": 20, "fontWeight": "normal", "color": "black", "subtitleFont": "Liberation Sans", "subtitleFontSize": 19, "subtitlePadding": -20, "offset": -6},
"layer": [
{"data": {"name": "flow"}, "transform": [{"filter": "datum.p == 'AG02'"}],
 "layer": [
  {"transform": [{"filter": "datum.k != 'tot'"}], "mark": {"type": "area", "stroke": "black", "strokeWidth": 0.6, "opacity": 1},
   "encoding": {
    "x": {"field": "x", "type": "quantitative", "scale": {"domain": [0, 250], "nice": false}, "axis": {"title": "Channels  (FL3-A)", "values": [0,10,20,30,40,50,60,70,80,90,100,110,120,130,140,150,160,170,180,190,200,210,220,230,240,250], "labelExpr": "datum.value % 50 == 0 ? datum.label : ''", "tickSize": {"condition": {"test": "datum.value % 50 == 0", "value": 4}, "value": 2.5}, "labelFontSize": 7, "labelFontWeight": "normal", "labelColor": "#555", "titleFontSize": 8, "titleFontWeight": "normal", "titleColor": "#333", "titlePadding": 1, "labelPadding": 1, "domainColor": "#444", "tickColor": "#444", "labelFlush": false, "labelOverlap": false}},
    "y": {"field": "n", "type": "quantitative", "stack": null, "scale": {"domain": [0, 1920], "nice": false}, "axis": {"title": "Number", "values": [0,100,200,300,400,500,600,700,800,900,1000,1100,1200,1300,1400,1500,1600,1700,1800,1900], "labelExpr": "datum.value % 400 == 0 ? datum.label : ''", "tickSize": {"condition": {"test": "datum.value % 400 == 0", "value": 4}, "value": 2.5}, "labelAngle": -90, "labelFontSize": 7, "labelFontWeight": "normal", "labelColor": "#555", "titleFontSize": 7, "titleFontWeight": "normal", "titleColor": "#333", "titlePadding": 1, "labelPadding": 1, "domainColor": "#444", "tickColor": "#444", "labelOverlap": false, "format": "d"}},
    "color": {"field": "k", "type": "nominal", "scale": {"domain": ["Dip G0-G1", "Dip G2-M", "Dip S"], "range": ["#e8271d", "#e8271d", "#d3dcf3"]}, "legend": {"title": null, "orient": "top-right", "offset": 2, "labelFontSize": 7.5, "labelColor": "#3d5fd6", "symbolType": "square", "symbolSize": 45, "symbolStrokeColor": "#333", "symbolStrokeWidth": 0.8, "rowPadding": -1, "labelOffset": 3, "padding": 0}}
   }},
  {"transform": [{"filter": "datum.k == 'tot'"}], "mark": {"type": "line", "color": "black", "strokeWidth": 1},
   "encoding": {"x": {"field": "x", "type": "quantitative"}, "y": {"field": "n", "type": "quantitative"}}}
 ]},
{"data": {"name": "stats"}, "transform": [{"filter": "datum.p == 'AG02' && datum.row == 'head'"}], "mark": {"type": "text", "align": "left", "baseline": "middle", "font": "Lato", "fontSize": 20, "color": "black"},
 "encoding": {"x": {"datum": 97.5, "type": "quantitative"}, "y": {"field": "row", "type": "nominal", "scale": {"type": "point", "domain": ["head"], "align": 0.281, "padding": 0.5}, "axis": null}, "text": {"field": "lab"}}},
{"data": {"name": "stats"}, "transform": [{"filter": "datum.p == 'AG02' && datum.row != 'head'"}], "mark": {"type": "text", "align": "left", "baseline": "middle", "font": "Lato", "fontSize": 20, "color": "black"},
 "encoding": {"x": {"datum": 134, "type": "quantitative"}, "y": {"field": "row", "type": "nominal", "scale": {"type": "point", "domain": ["d0", "d1", "d2", "G1", "S", "G2M"], "align": 0.111, "padding": 0.736}, "axis": null}, "text": {"field": "lab"}}},
{"data": {"name": "stats"}, "transform": [{"filter": "datum.p == 'AG02' && datum.row != 'head'"}], "mark": {"type": "text", "align": "left", "baseline": "middle", "font": "Lato", "fontSize": 20, "color": "black"},
 "encoding": {"x": {"datum": 194, "type": "quantitative"}, "y": {"field": "row", "type": "nominal", "scale": {"type": "point", "domain": ["d0", "d1", "d2", "G1", "S", "G2M"], "align": 0.111, "padding": 0.736}, "axis": null}, "text": {"field": "pct"}}}
],
"resolve": {"scale": {"y": "independent"}}
},
{
"width": 196, "height": 184,
"title": {"text": " ", "subtitle": " ", "anchor": "start", "frame": "group", "font": "Lato", "fontSize": 20, "fontWeight": "normal", "color": "black", "subtitleFont": "Liberation Sans", "subtitleFontSize": 19, "subtitlePadding": -20, "offset": -6},
"layer": [
{"data": {"name": "flow"}, "transform": [{"filter": "datum.p == 'A02'"}],
 "layer": [
  {"transform": [{"filter": "datum.k != 'tot'"}], "mark": {"type": "area", "stroke": "black", "strokeWidth": 0.6, "opacity": 1},
   "encoding": {
    "x": {"field": "x", "type": "quantitative", "scale": {"domain": [0, 250], "nice": false}, "axis": {"title": "Channels  (FL2-A)", "values": [0,10,20,30,40,50,60,70,80,90,100,110,120,130,140,150,160,170,180,190,200,210,220,230,240,250], "labelExpr": "datum.value % 50 == 0 ? datum.label : ''", "tickSize": {"condition": {"test": "datum.value % 50 == 0", "value": 4}, "value": 2.5}, "labelFontSize": 7, "labelFontWeight": "normal", "labelColor": "#555", "titleFontSize": 8, "titleFontWeight": "normal", "titleColor": "#333", "titlePadding": 1, "labelPadding": 1, "domainColor": "#444", "tickColor": "#444", "labelFlush": false, "labelOverlap": false}},
    "y": {"field": "n", "type": "quantitative", "stack": null, "scale": {"domain": [0, 730], "nice": false}, "axis": {"title": "Number", "values": [0,50,100,150,200,250,300,350,400,450,500,550,600,650,700], "labelExpr": "datum.value % 100 == 0 ? datum.label : ''", "tickSize": {"condition": {"test": "datum.value % 100 == 0", "value": 4}, "value": 2.5}, "labelAngle": -90, "labelFontSize": 7, "labelFontWeight": "normal", "labelColor": "#555", "titleFontSize": 7, "titleFontWeight": "normal", "titleColor": "#333", "titlePadding": 1, "labelPadding": 1, "domainColor": "#444", "tickColor": "#444", "labelOverlap": false, "format": "d"}},
    "color": {"field": "k", "type": "nominal", "scale": {"domain": ["Debris", "Aggregates", "Dip G1", "Dip G2", "Dip S"], "range": ["#b9b6ea", "#b5e8c3", "#e8271d", "#e8271d", "#d3dcf3"]}, "legend": {"title": null, "orient": "top-right", "offset": 2, "labelFontSize": 7.5, "labelColor": "#3d5fd6", "symbolType": "square", "symbolSize": 45, "symbolStrokeColor": "#333", "symbolStrokeWidth": 0.8, "rowPadding": -1, "labelOffset": 3, "padding": 0}}
   }},
  {"transform": [{"filter": "datum.k == 'tot'"}], "mark": {"type": "line", "color": "black", "strokeWidth": 1},
   "encoding": {"x": {"field": "x", "type": "quantitative"}, "y": {"field": "n", "type": "quantitative"}}}
 ]},
{"data": {"name": "stats"}, "transform": [{"filter": "datum.p == 'A02' && datum.row == 'head'"}], "mark": {"type": "text", "align": "left", "baseline": "middle", "font": "Lato", "fontSize": 20, "color": "black"},
 "encoding": {"x": {"datum": 100.8, "type": "quantitative"}, "y": {"field": "row", "type": "nominal", "scale": {"type": "point", "domain": ["head"], "align": 0.446, "padding": 0.5}, "axis": null}, "text": {"field": "lab"}}},
{"data": {"name": "stats"}, "transform": [{"filter": "datum.p == 'A02' && datum.row != 'head'"}], "mark": {"type": "text", "align": "left", "baseline": "middle", "font": "Lato", "fontSize": 20, "color": "black"},
 "encoding": {"x": {"datum": 153, "type": "quantitative"}, "y": {"field": "row", "type": "nominal", "scale": {"type": "point", "domain": ["d0", "d1", "d2", "G1", "S", "G2M"], "align": 0.591, "padding": 0.845}, "axis": null}, "text": {"field": "lab"}}},
{"data": {"name": "stats"}, "transform": [{"filter": "datum.p == 'A02' && datum.row != 'head'"}], "mark": {"type": "text", "align": "left", "baseline": "middle", "font": "Lato", "fontSize": 20, "color": "black"},
 "encoding": {"x": {"datum": 217, "type": "quantitative"}, "y": {"field": "row", "type": "nominal", "scale": {"type": "point", "domain": ["d0", "d1", "d2", "G1", "S", "G2M"], "align": 0.591, "padding": 0.845}, "axis": null}, "text": {"field": "pct"}}}
],
"resolve": {"scale": {"y": "independent"}}
}
]
},
{
"spacing": 0,
"resolve": {"scale": {"color": "independent"}, "legend": {"color": "independent"}},
"vconcat": [
{
"width": 202, "height": 175,
"title": {"text": " ", "subtitle": " ", "anchor": "start", "frame": "group", "font": "Lato", "fontSize": 20, "fontWeight": "normal", "color": "black", "subtitleFont": "Liberation Sans", "subtitleFontSize": 19, "subtitlePadding": -20, "offset": -6},
"layer": [
{"data": {"name": "flow"}, "transform": [{"filter": "datum.p == 'AG2'"}],
 "layer": [
  {"transform": [{"filter": "datum.k != 'tot'"}], "mark": {"type": "area", "stroke": "black", "strokeWidth": 0.6, "opacity": 1},
   "encoding": {
    "x": {"field": "x", "type": "quantitative", "scale": {"domain": [0, 240], "nice": false}, "axis": {"title": "Channels  (FL3-A)", "values": [0,10,20,30,40,50,60,70,80,90,100,110,120,130,140,150,160,170,180,190,200,210,220,230,240], "labelExpr": "datum.value % 50 == 0 ? datum.label : ''", "tickSize": {"condition": {"test": "datum.value % 50 == 0", "value": 4}, "value": 2.5}, "labelFontSize": 7, "labelFontWeight": "normal", "labelColor": "#555", "titleFontSize": 8, "titleFontWeight": "normal", "titleColor": "#333", "titlePadding": 1, "labelPadding": 1, "domainColor": "#444", "tickColor": "#444", "labelFlush": false, "labelOverlap": false}},
    "y": {"field": "n", "type": "quantitative", "stack": null, "scale": {"domain": [0, 2400], "nice": false}, "axis": {"title": null, "values": [0,100,200,300,400,500,600,700,800,900,1000,1100,1200,1300,1400,1500,1600,1700,1800,1900,2000,2100,2200,2300,2400], "labelExpr": "datum.value % 500 == 0 ? datum.label : ''", "tickSize": {"condition": {"test": "datum.value % 500 == 0", "value": 4}, "value": 2.5}, "labelAngle": -90, "labelFontSize": 7, "labelFontWeight": "normal", "labelColor": "#555", "titlePadding": 1, "labelPadding": 1, "domainColor": "#444", "tickColor": "#444", "labelOverlap": false, "format": "d"}},
    "color": {"field": "k", "type": "nominal", "scale": {"domain": ["Dip G0-G1", "Dip G2-M", "Dip S"], "range": ["#e8271d", "#e8271d", "#d3dcf3"]}, "legend": {"title": null, "orient": "top-right", "offset": 2, "labelFontSize": 7.5, "labelColor": "#3d5fd6", "symbolType": "square", "symbolSize": 45, "symbolStrokeColor": "#333", "symbolStrokeWidth": 0.8, "rowPadding": -1, "labelOffset": 3, "padding": 0}}
   }},
  {"transform": [{"filter": "datum.k == 'tot'"}], "mark": {"type": "line", "color": "black", "strokeWidth": 1},
   "encoding": {"x": {"field": "x", "type": "quantitative"}, "y": {"field": "n", "type": "quantitative"}}}
 ]},
{"data": {"name": "stats"}, "transform": [{"filter": "datum.p == 'AG2' && datum.row == 'head'"}], "mark": {"type": "text", "align": "left", "baseline": "middle", "font": "Lato", "fontSize": 20, "color": "black"},
 "encoding": {"x": {"datum": 124, "type": "quantitative"}, "y": {"field": "row", "type": "nominal", "scale": {"type": "point", "domain": ["head"], "align": 0.326, "padding": 0.5}, "axis": null}, "text": {"field": "lab"}}},
{"data": {"name": "stats"}, "transform": [{"filter": "datum.p == 'AG2' && datum.row != 'head'"}], "mark": {"type": "text", "align": "left", "baseline": "middle", "font": "Lato", "fontSize": 20, "color": "black"},
 "encoding": {"x": {"datum": 141, "type": "quantitative"}, "y": {"field": "row", "type": "nominal", "scale": {"type": "point", "domain": ["d0", "d1", "d2", "G1", "S", "G2M"], "align": 0.333, "padding": 0.682}, "axis": null}, "text": {"field": "lab"}}},
{"data": {"name": "stats"}, "transform": [{"filter": "datum.p == 'AG2' && datum.row != 'head'"}], "mark": {"type": "text", "align": "left", "baseline": "middle", "font": "Lato", "fontSize": 20, "color": "black"},
 "encoding": {"x": {"datum": 203, "type": "quantitative"}, "y": {"field": "row", "type": "nominal", "scale": {"type": "point", "domain": ["d0", "d1", "d2", "G1", "S", "G2M"], "align": 0.333, "padding": 0.682}, "axis": null}, "text": {"field": "pct"}}}
],
"resolve": {"scale": {"y": "independent"}}
},
{
"width": 210, "height": 185,
"title": {"text": " ", "subtitle": " ", "anchor": "start", "frame": "group", "font": "Lato", "fontSize": 20, "fontWeight": "normal", "color": "black", "subtitleFont": "Liberation Sans", "subtitleFontSize": 19, "subtitlePadding": -20, "offset": -6},
"layer": [
{"data": {"name": "flow"}, "transform": [{"filter": "datum.p == 'A2'"}],
 "layer": [
  {"transform": [{"filter": "datum.k != 'tot'"}], "mark": {"type": "area", "stroke": "black", "strokeWidth": 0.6, "opacity": 1},
   "encoding": {
    "x": {"field": "x", "type": "quantitative", "scale": {"domain": [0, 250], "nice": false}, "axis": {"title": "Channels  (FL2-A)", "values": [0,10,20,30,40,50,60,70,80,90,100,110,120,130,140,150,160,170,180,190,200,210,220,230,240,250], "labelExpr": "datum.value % 50 == 0 ? datum.label : ''", "tickSize": {"condition": {"test": "datum.value % 50 == 0", "value": 4}, "value": 2.5}, "labelFontSize": 7, "labelFontWeight": "normal", "labelColor": "#555", "titleFontSize": 8, "titleFontWeight": "normal", "titleColor": "#333", "titlePadding": 1, "labelPadding": 1, "domainColor": "#444", "tickColor": "#444", "labelFlush": false, "labelOverlap": false}},
    "y": {"field": "n", "type": "quantitative", "stack": null, "scale": {"domain": [0, 1050], "nice": false}, "axis": {"title": "Number", "values": [0,50,100,150,200,250,300,350,400,450,500,550,600,650,700,750,800,850,900,950,1000,1050], "labelExpr": "datum.value % 200 == 0 ? datum.label : ''", "tickSize": {"condition": {"test": "datum.value % 200 == 0", "value": 4}, "value": 2.5}, "labelAngle": -90, "labelFontSize": 7, "labelFontWeight": "normal", "labelColor": "#555", "titleFontSize": 7, "titleFontWeight": "normal", "titleColor": "#333", "titlePadding": 1, "labelPadding": 1, "domainColor": "#444", "tickColor": "#444", "labelOverlap": false, "format": "d"}},
    "color": {"field": "k", "type": "nominal", "scale": {"domain": ["Debris", "Aggregates", "Dip G1", "Dip G2", "Dip S"], "range": ["#b9b6ea", "#b5e8c3", "#e8271d", "#e8271d", "#d3dcf3"]}, "legend": {"title": null, "orient": "top-right", "offset": 2, "labelFontSize": 7.5, "labelColor": "#3d5fd6", "symbolType": "square", "symbolSize": 45, "symbolStrokeColor": "#333", "symbolStrokeWidth": 0.8, "rowPadding": -1, "labelOffset": 3, "padding": 0}}
   }},
  {"transform": [{"filter": "datum.k == 'tot'"}], "mark": {"type": "line", "color": "black", "strokeWidth": 1},
   "encoding": {"x": {"field": "x", "type": "quantitative"}, "y": {"field": "n", "type": "quantitative"}}}
 ]},
{"data": {"name": "stats"}, "transform": [{"filter": "datum.p == 'A2' && datum.row == 'head'"}], "mark": {"type": "text", "align": "left", "baseline": "middle", "font": "Lato", "fontSize": 20, "color": "black"},
 "encoding": {"x": {"datum": 130, "type": "quantitative"}, "y": {"field": "row", "type": "nominal", "scale": {"type": "point", "domain": ["head"], "align": 0.459, "padding": 0.5}, "axis": null}, "text": {"field": "lab"}}},
{"data": {"name": "stats"}, "transform": [{"filter": "datum.p == 'A2' && datum.row != 'head'"}], "mark": {"type": "text", "align": "left", "baseline": "middle", "font": "Lato", "fontSize": 20, "color": "black"},
 "encoding": {"x": {"datum": 146, "type": "quantitative"}, "y": {"field": "row", "type": "nominal", "scale": {"type": "point", "domain": ["d0", "d1", "d2", "G1", "S", "G2M"], "align": 0.579, "padding": 0.864}, "axis": null}, "text": {"field": "lab"}}},
{"data": {"name": "stats"}, "transform": [{"filter": "datum.p == 'A2' && datum.row != 'head'"}], "mark": {"type": "text", "align": "left", "baseline": "middle", "font": "Lato", "fontSize": 20, "color": "black"},
 "encoding": {"x": {"datum": 203, "type": "quantitative"}, "y": {"field": "row", "type": "nominal", "scale": {"type": "point", "domain": ["d0", "d1", "d2", "G1", "S", "G2M"], "align": 0.579, "padding": 0.864}, "axis": null}, "text": {"field": "pct"}}}
],
"resolve": {"scale": {"y": "independent"}}
}
]
}
]
}
],
"config": {
"view": {"stroke": null},
"axis": {"grid": false, "domainColor": "black", "tickColor": "black", "labelColor": "black", "titleColor": "black", "labelFont": "Liberation Sans", "titleFont": "Liberation Sans", "labelFontWeight": "bold", "titleFontWeight": "bold"},
"title": {"font": "Liberation Sans", "fontWeight": "bold", "color": "black"},
"legend": {"labelFont": "Liberation Sans"}
}
}
